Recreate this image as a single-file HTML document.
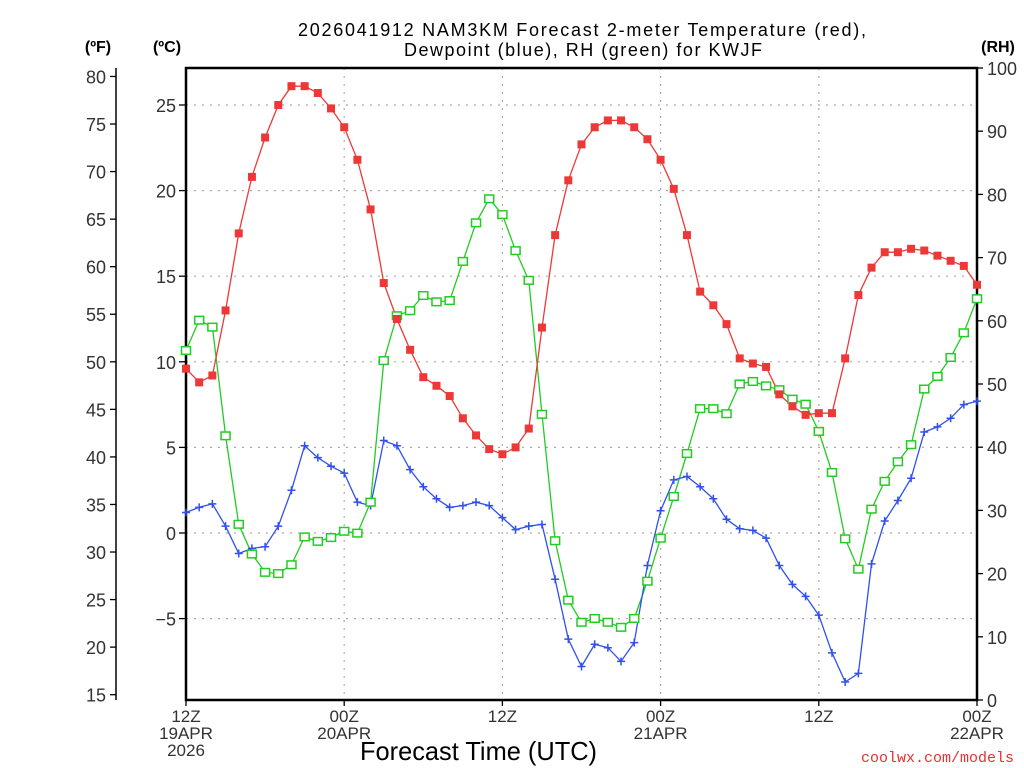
<!DOCTYPE html>
<html><head><meta charset="utf-8"><style>
html,body{margin:0;padding:0;background:#fff;}
svg{display:block;font-family:"Liberation Sans",sans-serif;}
</style></head><body>
<svg id="chart" width="1024" height="768" viewBox="0 0 1024 768">
<g id="grid"></g>
<g id="axes"></g>
<g id="series"></g>
<text x="298" y="36" textLength="568" lengthAdjust="spacing" font-size="18" fill="#000">2026041912 NAM3KM Forecast 2-meter Temperature (red),</text>
<text x="404" y="56" textLength="358" lengthAdjust="spacing" font-size="18" fill="#000">Dewpoint (blue), RH (green) for KWJF</text>
<text x="98" y="52" text-anchor="middle" font-size="16" font-weight="bold">(ºF)</text>
<text x="167" y="52" text-anchor="middle" font-size="16" font-weight="bold">(ºC)</text>
<text x="998" y="52" text-anchor="middle" font-size="16" font-weight="bold">(RH)</text>
<text x="360" y="760" textLength="237" lengthAdjust="spacingAndGlyphs" font-size="26">Forecast Time (UTC)</text>
<text x="1014" y="762" text-anchor="end" font-size="15" fill="#e83030" font-family="Liberation Mono, monospace">coolwx.com/models</text>
</svg>
<script>
const hours = [];
for (let h = 0; h <= 60; h++) hours.push(h);
const tempC = [9.6,8.8,9.2,13.0,17.5,20.8,23.1,25.0,26.1,26.1,25.7,24.8,23.7,21.8,18.9,14.6,12.5,10.7,9.1,8.6,8.0,6.7,5.7,4.9,4.6,5.0,6.1,12.0,17.4,20.6,22.7,23.7,24.1,24.1,23.7,23.0,21.8,20.1,17.4,14.1,13.3,12.2,10.2,9.9,9.7,8.1,7.4,6.9,7.0,7.0,10.2,13.9,15.5,16.4,16.4,16.6,16.5,16.2,15.9,15.6,14.5];
const dewC = [1.2,1.5,1.7,0.4,-1.2,-0.9,-0.8,0.4,2.5,5.1,4.4,3.9,3.5,1.8,1.6,5.4,5.1,3.7,2.7,2.0,1.5,1.6,1.8,1.6,0.9,0.2,0.4,0.5,-2.7,-6.2,-7.8,-6.5,-6.7,-7.5,-6.4,-1.9,1.3,3.1,3.3,2.7,2.0,0.8,0.25,0.15,-0.3,-1.9,-3.0,-3.7,-4.8,-7.0,-8.7,-8.2,-1.8,0.7,1.9,3.2,5.9,6.2,6.7,7.5,7.7];
const rh = [55.3,60.1,59.0,41.8,27.8,23.1,20.2,20.0,21.4,25.8,25.1,25.7,26.7,26.4,31.3,53.7,60.8,61.6,64.0,63.0,63.2,69.4,75.5,79.3,76.8,71.1,66.4,45.2,25.2,15.8,12.3,12.9,12.3,11.5,12.9,18.8,25.6,32.2,39.0,46.1,46.1,45.3,50.0,50.4,49.7,49.1,47.6,46.8,42.5,36.0,25.5,20.7,30.2,34.6,37.7,40.4,49.2,51.2,54.2,58.1,63.5];
const cTicks = [-5,0,5,10,15,20,25];
const fTicks = [15,20,25,30,35,40,45,50,55,60,65,70,75,80];
const rhTicks = [0,10,20,30,40,50,60,70,80,90,100];
const xTickHours = [0,12,24,36,48,60];
const xTickLabels = [["12Z","19APR","2026"],["00Z","20APR"],["12Z"],["00Z","21APR"],["12Z"],["00Z","22APR"]];

const L=186,R=977,T=68,B=700;
const NS="http://www.w3.org/2000/svg";
function xS(h){return L+(h-0)*(R-L)/60;}
function yC(c){return 533-c*17.12;}
function yF(f){return yC((f-32)*5/9);}
function yRH(r){return B-r*(B-T)/100;}
function mk(tag,attrs,parent){const e=document.createElementNS(NS,tag);for(const k in attrs)e.setAttribute(k,attrs[k]);parent.appendChild(e);return e;}
const grid=document.getElementById('grid'),axes=document.getElementById('axes'),series=document.getElementById('series');

cTicks.forEach(c=>{
  const y=yC(c);
  const g=mk('line',{x1:L,x2:R,y1:y,y2:y,stroke:'#aaa','stroke-width':1.2,'stroke-dasharray':'2,6'},grid);
  
  
  const t=mk('line',{x1:L-7,x2:L,y1:y,y2:y,stroke:'#000','stroke-width':1.3},axes);
  
  
  const tx=mk('text',{x:L-10,y:y+7,'text-anchor':'end','font-size':18,fill:'#333'},axes);
  tx.textContent=(c<0?'\u2212'+(-c):c);
  
  
});
xTickHours.forEach((h,i)=>{
  const x=xS(h);
  if(h>0&&h<60){const g=mk('line',{x1:x,x2:x,y1:T,y2:B,stroke:'#aaa','stroke-width':1.2,'stroke-dasharray':'2,6'},grid);
  
  }
  const t=mk('line',{x1:x,x2:x,y1:B,y2:B+6,stroke:'#000','stroke-width':1.3},axes);
  
  
  xTickLabels[i].forEach((s,j)=>{
    const tx=mk('text',{x:x,y:B+22+j*17,'text-anchor':'middle','font-size':17,fill:'#333'},axes);
    tx.textContent=s;
    
    
  });
});
const fa=mk('line',{x1:116,x2:116,y1:T,y2:B,stroke:'#000','stroke-width':1.5},axes);


fTicks.forEach(f=>{
  const y=yF(f);
  const t=mk('line',{x1:110,x2:116,y1:y,y2:y,stroke:'#000','stroke-width':1.3},axes);
  
  
  const tx=mk('text',{x:106,y:y+7,'text-anchor':'end','font-size':18,fill:'#333'},axes);
  tx.textContent=f;
  
  
});
rhTicks.forEach(r=>{
  const y=yRH(r);
  const t=mk('line',{x1:R,x2:R+6,y1:y,y2:y,stroke:'#000','stroke-width':1.3},axes);
  
  
  const tx=mk('text',{x:R+10,y:y+7,'text-anchor':'start','font-size':18,fill:'#333'},axes);
  tx.textContent=r;
  
  
});
const frame=mk('rect',{x:L,y:T,width:R-L,height:B-T,fill:'none',stroke:'#000','stroke-width':2.5},axes);



function line(vals,yf,color,name){
  const pts=vals.map((v,i)=>xS(hours[i]).toFixed(1)+','+yf(v).toFixed(1)).join(' ');
  const p=mk('polyline',{points:pts,fill:'none',stroke:color,'stroke-width':1.3},series);
  
  
}
line(rh,yRH,'#22cc22','rh-line');
line(dewC,yC,'#3050ee','dewpoint-line');
line(tempC,yC,'#ee3838','temperature-line');
dewC.forEach((v,i)=>{
  const x=xS(hours[i]),y=yC(v);
  const p=mk('path',{d:`M${x-4},${y}H${x+4}M${x},${y-4}V${y+4}`,stroke:'#3050ee','stroke-width':1.5,fill:'none'},series);
  
  
});
rh.forEach((v,i)=>{
  const x=xS(hours[i]),y=yRH(v);
  const p=mk('rect',{x:x-4.5,y:y-3.8,width:9,height:7.6,fill:'#fff',stroke:'#22cc22','stroke-width':1.5},series);
  
  
});
tempC.forEach((v,i)=>{
  const x=xS(hours[i]),y=yC(v);
  const p=mk('rect',{x:x-4,y:y-4,width:8,height:8,fill:'#ee3838'},series);
  
  
});
</script>
</body></html>
